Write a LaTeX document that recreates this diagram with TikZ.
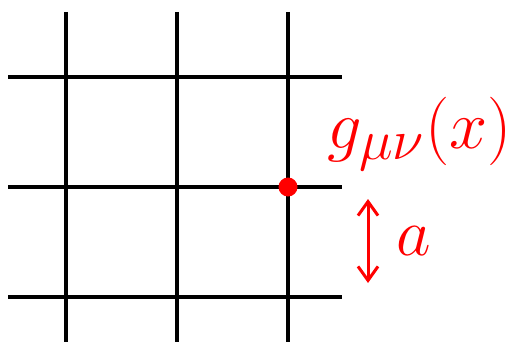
\documentclass[tikz,border=0pt]{standalone}
\usetikzlibrary{arrows.meta}
\definecolor{lblred}{RGB}{255,0,0}
\begin{document}
\begin{tikzpicture}[x=1pt,y=-1pt,
  gridline/.style={line width=4.2pt,black},
  redtext/.style={text=lblred,inner sep=0pt,font=\Huge},
  spacing/.style={line width=3pt,lblred,{Straight Barb[length=14pt,width=20pt,line width=3pt]}-{Straight Barb[length=14pt,width=20pt,line width=3pt]}}]
\useasboundingbox (0,0) rectangle (519,342);
% vertical lines
\foreach \x in {66,177,288} \draw[gridline] (\x,12) -- (\x,342);
% horizontal lines
\foreach \y in {77,187,297} \draw[gridline] (8,\y) -- (342,\y);
% site
\fill[lblred] (288,187) circle (9.5);
\node[redtext,anchor=west] (g) at (327,134) {\scalebox{2.75}{$g_{\mu\nu}(x)$}};
\coordinate (atop) at (368,199);
\coordinate (abot) at (368,283);
\draw[spacing] (atop) -- (abot);
\node[redtext,anchor=west] (a) at (396,241) {\scalebox{2.7}{$a$}};
\end{tikzpicture}
\end{document}
